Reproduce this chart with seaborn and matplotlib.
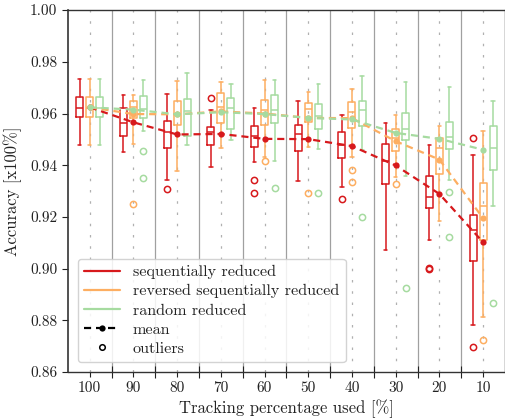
import numpy as np
import pandas as pd
import matplotlib
matplotlib.use("Agg")
import matplotlib.pyplot as plt
from matplotlib.lines import Line2D
from matplotlib.ticker import FormatStrFormatter, FixedLocator
import seaborn as sns

# ---------------- data ----------------
percent_labels = ["100", "90", "80", "70", "60", "50", "40", "30", "20", "10"]
series_names = ["sequentially reduced", "reversed sequentially reduced", "random reduced"]
series_colors = ["#d7191c", "#fdae61", "#a6dba0"]

# sequentially reduced
seq_whislo = [0.9480, 0.9453, 0.9344, 0.9392, 0.9414, 0.9339, 0.9317, 0.9071, 0.9109, 0.8784]
seq_q1     = [0.9585, 0.9515, 0.9466, 0.9479, 0.9470, 0.9454, 0.9429, 0.9326, 0.9234, 0.9030]
seq_med    = [0.9623, 0.9563, 0.9528, 0.9530, 0.9512, 0.9519, 0.9480, 0.9418, 0.9279, 0.9148]
seq_q3     = [0.9662, 0.9620, 0.9570, 0.9547, 0.9550, 0.9557, 0.9529, 0.9483, 0.9358, 0.9209]
seq_whishi = [0.9733, 0.9673, 0.9677, 0.9614, 0.9623, 0.9648, 0.9595, 0.9563, 0.9480, 0.9438]
seq_mean   = [0.9624, 0.9566, 0.9519, 0.9521, 0.9502, 0.9501, 0.9474, 0.9399, 0.9289, 0.9102]
seq_outliers = [[], [], [0.9307], [0.9661], [0.9344, 0.9291], [], [0.9270], [],
                [0.8998, 0.9002], [0.8699, 0.9506]]

# reversed sequentially reduced
rev_whislo = [0.9480, 0.9483, 0.9379, 0.9467, 0.9431, 0.9470, 0.9431, 0.9354, 0.9186, 0.8814]
rev_q1     = [0.9585, 0.9583, 0.9554, 0.9562, 0.9557, 0.9568, 0.9544, 0.9454, 0.9367, 0.9112]
rev_med    = [0.9623, 0.9627, 0.9600, 0.9625, 0.9612, 0.9617, 0.9605, 0.9505, 0.9465, 0.9242]
rev_q3     = [0.9662, 0.9650, 0.9650, 0.9680, 0.9651, 0.9640, 0.9646, 0.9541, 0.9505, 0.9330]
rev_whishi = [0.9733, 0.9671, 0.9726, 0.9720, 0.9730, 0.9682, 0.9693, 0.9596, 0.9551, 0.9532]
rev_mean   = [0.9624, 0.9598, 0.9597, 0.9608, 0.9600, 0.9583, 0.9582, 0.9493, 0.9422, 0.9195]
rev_outliers = [[], [0.9251], [], [], [0.9416], [0.9293], [0.9381, 0.9335], [0.9328],
                [], [0.8726]]

# random reduced
rnd_whislo = [0.9480, 0.9534, 0.9480, 0.9498, 0.9415, 0.9464, 0.9460, 0.9358, 0.9343, 0.9244]
rnd_q1     = [0.9585, 0.9583, 0.9515, 0.9541, 0.9563, 0.9541, 0.9550, 0.9496, 0.9463, 0.9383]
rnd_med    = [0.9623, 0.9617, 0.9610, 0.9622, 0.9614, 0.9590, 0.9612, 0.9541, 0.9511, 0.9467]
rnd_q3     = [0.9662, 0.9668, 0.9655, 0.9661, 0.9670, 0.9637, 0.9650, 0.9601, 0.9566, 0.9551]
rnd_whishi = [0.9733, 0.9730, 0.9757, 0.9715, 0.9729, 0.9715, 0.9746, 0.9721, 0.9704, 0.9648]
rnd_mean   = [0.9624, 0.9615, 0.9597, 0.9605, 0.9598, 0.9583, 0.9577, 0.9525, 0.9502, 0.9460]
rnd_outliers = [[], [0.9454, 0.9351], [], [], [0.9311], [0.9293], [0.9198], [0.8927],
                [0.9297, 0.9121], [0.8868]]

# ---------------- style ----------------
sns.set_theme(style="ticks")
plt.rcParams["font.family"] = ["cmr10", "DejaVu Serif"]
plt.rcParams["mathtext.fontset"] = "cm"
plt.rcParams["axes.formatter.use_mathtext"] = True
plt.rcParams["axes.unicode_minus"] = False

fig = plt.figure(figsize=(5.06, 4.20), dpi=100)
ax = fig.add_axes([0.134, 0.114, 0.864, 0.862])

n = len(percent_labels)
pos = np.arange(n)
offsets = [-0.23, 0.0, 0.23]

# grid lines: solid between groups, dotted at group centres
for b in np.arange(n - 1) + 0.5:
    ax.axvline(b, color="#a0a0a0", lw=0.9, zorder=0)
for c in pos:
    ax.axvline(c, color="#b0b0b0", lw=0.9, ls=(0, (2, 7)), zorder=0)

all_stats = [
    (seq_whislo, seq_q1, seq_med, seq_q3, seq_whishi, seq_outliers),
    (rev_whislo, rev_q1, rev_med, rev_q3, rev_whishi, rev_outliers),
    (rnd_whislo, rnd_q1, rnd_med, rnd_q3, rnd_whishi, rnd_outliers),
]

for k, (wl, q1, md, q3, wh, fl) in enumerate(all_stats):
    col = series_colors[k]
    stats = [dict(whislo=wl[i], q1=q1[i], med=md[i], q3=q3[i], whishi=wh[i], fliers=fl[i])
             for i in range(n)]
    ax.bxp(stats, positions=pos + offsets[k], widths=0.16, showfliers=True,
           patch_artist=False, manage_ticks=False,
           boxprops=dict(color=col, lw=1.1),
           whiskerprops=dict(color=col, lw=1.1),
           capprops=dict(color=col, lw=1.1),
           medianprops=dict(color=col, lw=1.1),
           flierprops=dict(marker="o", markersize=4.5, markerfacecolor="none",
                           markeredgecolor=col, markeredgewidth=1.1, linestyle="none"),
           capwidths=0.08, zorder=2)

means = [seq_mean, rev_mean, rnd_mean]
for k in range(3):
    df = pd.DataFrame({"x": pos, "y": means[k]})
    sns.lineplot(data=df, x="x", y="y", ax=ax, color=series_colors[k], lw=1.6,
                 linestyle=(0, (3.2, 2.2)), marker="o", markersize=4.5,
                 markeredgewidth=0, zorder=3)

ax.set_xlim(-0.5, n - 0.5)
ax.set_ylim(0.86, 1.00)
ax.set_yticks(np.arange(0.86, 1.0001, 0.02))
ax.yaxis.set_major_formatter(FormatStrFormatter("%.2f"))
ax.set_xticks(pos)
ax.set_xticklabels(percent_labels)
ax.xaxis.set_minor_locator(FixedLocator(np.arange(n - 1) + 0.5))
ax.tick_params(axis="x", which="major", direction="out", length=3.5, width=0.8,
               labelsize=11, colors="#222222", pad=3)
ax.tick_params(axis="x", which="minor", direction="inout", length=8, width=0.8,
               colors="#222222")
ax.tick_params(axis="y", which="major", direction="out", length=4, width=0.8,
               labelsize=11, colors="#222222")
ax.set_xlabel("Tracking percentage used [%]", fontsize=12, color="#222222", labelpad=3)
ax.set_ylabel("Accuracy [x100%]", fontsize=12, color="#222222", labelpad=6)
for s in ax.spines.values():
    s.set_color("#333333")
    s.set_linewidth(1.0)
ax.spines["left"].set_linewidth(1.2)

handles = [Line2D([], [], color=series_colors[0], lw=1.6),
           Line2D([], [], color=series_colors[1], lw=1.6),
           Line2D([], [], color=series_colors[2], lw=1.6),
           Line2D([], [], color="black", lw=1.6, ls=(0, (3.2, 2.2)), marker="o",
                  markersize=4.5, markeredgewidth=0),
           Line2D([], [], color="black", lw=0, marker="o", markersize=4,
                  markerfacecolor="none", markeredgewidth=1.1)]
labels = series_names + ["mean", "outliers"]
leg = ax.legend(handles, labels, loc="lower left", fontsize=11.6, frameon=True,
                fancybox=True, framealpha=0.85, edgecolor="#cccccc",
                handlelength=2.2, borderpad=0.4, labelspacing=0.3,
                bbox_to_anchor=(0.005, 0.005))
for t in leg.get_texts():
    t.set_color("#222222")

fig.savefig("out.png", dpi=100)
